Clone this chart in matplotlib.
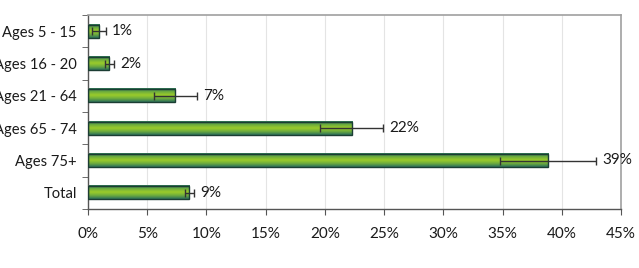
import numpy as np
import matplotlib.pyplot as plt
from matplotlib.colors import LinearSegmentedColormap

# Data
categories = ['Ages 5 - 15', 'Ages 16 - 20', 'Ages 21 - 64', 'Ages 65 - 74', 'Ages 75+', 'Total']
values = [0.95, 1.8, 7.35, 22.3, 38.85, 8.55]
err_low = [0.65, 0.35, 1.8, 2.7, 4.05, 0.35]
err_high = [0.55, 0.4, 1.85, 2.6, 4.05, 0.4]
labels = ['1%', '2%', '7%', '22%', '39%', '9%']

plt.rcParams['font.family'] = ['Lato', 'DejaVu Sans']

fig = plt.figure(figsize=(6.39, 2.68), dpi=100)
ax = fig.add_axes([88 / 639, 1 - 209 / 268, (621 - 88) / 639, (209 - 15) / 268])

y = np.arange(len(categories))
h = 0.41

# vertical gradient for bars: dark teal edge -> yellow-green centre -> dark teal edge
cmap = LinearSegmentedColormap.from_list('bar', ['#2a6e5c', '#6dac3e', '#9ccd2a', '#6dac3e', '#2a6e5c'])
grad = np.linspace(0, 1, 64).reshape(-1, 1)

for i, v in enumerate(values):
    ax.imshow(grad, cmap=cmap, aspect='auto', extent=[0, v, y[i] + h / 2, y[i] - h / 2],
              zorder=2, interpolation='bicubic')
ax.barh(y, values, height=h, color='none', edgecolor='#1b3d33', linewidth=1.0, zorder=3)

ax.errorbar(values, y, xerr=[err_low, err_high], fmt='none', ecolor='#333333',
            elinewidth=1.0, capsize=3, capthick=1.0, zorder=4)

for i, lab in enumerate(labels):
    ax.text(values[i] + err_high[i] + 0.5, y[i], lab, va='center', ha='left', fontsize=11, color='#1a1a1a')

ax.set_xlim(0, 45)
ax.set_ylim(len(categories) - 0.5, -0.5)
ax.set_xticks(np.arange(0, 46, 5))
ax.set_xticklabels([f'{t}%' for t in range(0, 46, 5)], fontsize=11)
ax.set_yticks(y)
ax.set_yticklabels(categories, fontsize=10.6)
ax.set_yticks(np.arange(-0.5, len(categories), 1), minor=True)
ax.tick_params(axis='y', which='major', length=0, pad=8, colors='#1a1a1a')
ax.tick_params(axis='y', which='minor', length=4, direction='out', color='#555555')
ax.tick_params(axis='x', length=4, direction='out', color='#555555', labelcolor='#1a1a1a', pad=9)

ax.grid(axis='x', color='#e4e4e4', linewidth=0.8, zorder=0)
ax.set_axisbelow(True)
for s in ['top', 'right']:
    ax.spines[s].set_color('#a0a0a0')
    ax.spines[s].set_linewidth(1.2)
for s in ['left', 'bottom']:
    ax.spines[s].set_color('#555555')
    ax.spines[s].set_linewidth(1.0)

fig.savefig('out.png', dpi=100)
